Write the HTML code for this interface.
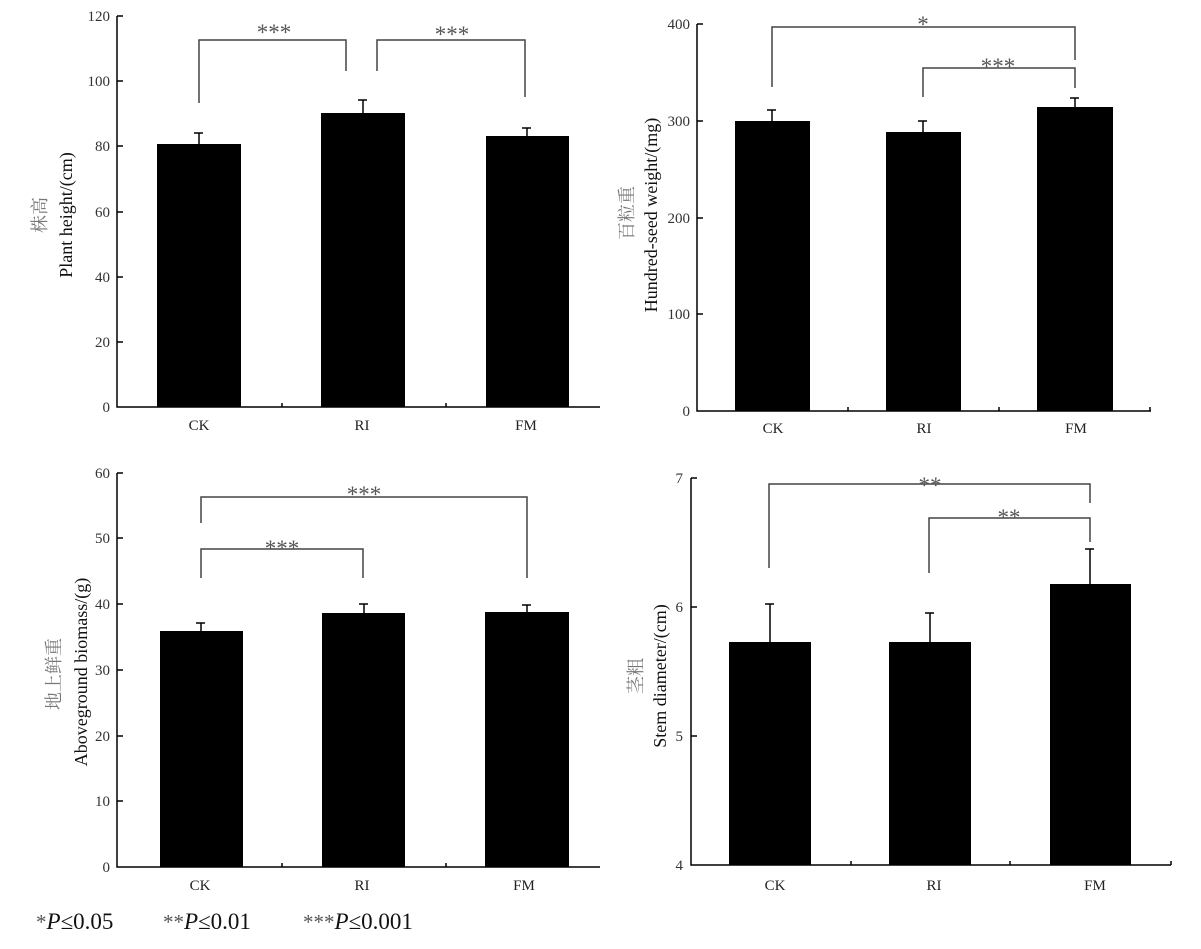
<!DOCTYPE html>
<html><head><meta charset="utf-8"><style>
body{margin:0;background:#fff}
svg{display:block}
text{font-family:"Liberation Serif","Noto Serif CJK SC",serif}
.t{font-size:15px;fill:#333}
.x{font-size:15px;fill:#222;text-anchor:middle}
.s{font-size:23px;fill:#555;text-anchor:middle}
.yl{font-size:18px;fill:#111;text-anchor:middle}
.yc{font-size:18px;fill:#777;text-anchor:middle;font-family:"Noto Serif CJK SC","Noto Sans CJK SC",serif}
</style></head><body>
<svg width="1201" height="949" viewBox="0 0 1201 949">
<g stroke="#000" stroke-width="1.5" fill="none">
<path d="M117,16 V407 H600"/>
<path d="M117,16 h6 M117,81 h6 M117,146 h6 M117,212 h6 M117,277 h6 M117,342 h6 M282,407 v-4 M446,407 v-4"/>
<path d="M199,144 V133 M194,133 h9 M363,113 V100 M358,100 h9 M527,136 V128 M522,128 h9"/>
<path stroke="#444" d="M199,103 V40 H346 V71 M377,71 V40 H525 V97"/>
<path d="M697,24 V411 H1151"/>
<path d="M697,24 h6 M697,121 h6 M697,218 h6 M697,314 h6 M848,411 v-4 M999,411 v-4 M1150,411 v-4"/>
<path d="M772,121 V110 M767,110 h9 M923,132 V121 M918,121 h9 M1075,107 V98 M1070,98 h9"/>
<path stroke="#444" d="M772,87 V27 H1075 V60 M923,97 V68 H1075 V88"/>
<path d="M117,473 V867 H600"/>
<path d="M117,473 h6 M117,538 h6 M117,604 h6 M117,670 h6 M117,736 h6 M117,801 h6 M282,867 v-4 M446,867 v-4"/>
<path d="M201,631 V623 M196,623 h9 M364,613 V604 M359,604 h9 M527,612 V605 M522,605 h9"/>
<path stroke="#444" d="M201,523 V497 H527 V578 M201,578 V549 H363 V578"/>
<path d="M691,478 V865 H1171"/>
<path d="M691,478 h6 M691,607 h6 M691,736 h6 M851,865 v-4 M1010,865 v-4 M1171,865 v-4"/>
<path d="M770,642 V604 M765,604 h9 M930,642 V613 M925,613 h9 M1090,584 V549 M1085,549 h9"/>
<path stroke="#444" d="M769,568 V484 H1090 V503 M929,573 V518 H1090 V542"/>
</g>
<g fill="#000">
<rect x="157" y="144" width="84" height="263"/>
<rect x="321" y="113" width="84" height="294"/>
<rect x="486" y="136" width="83" height="271"/>
<rect x="735" y="121" width="75" height="290"/>
<rect x="886" y="132" width="75" height="279"/>
<rect x="1037" y="107" width="76" height="304"/>
<rect x="160" y="631" width="83" height="236"/>
<rect x="322" y="613" width="83" height="254"/>
<rect x="485" y="612" width="84" height="255"/>
<rect x="729" y="642" width="82" height="223"/>
<rect x="889" y="642" width="82" height="223"/>
<rect x="1050" y="584" width="81" height="281"/>
</g>
<g class="t" text-anchor="end">
<text x="110" y="21">120</text><text x="110" y="86">100</text><text x="110" y="151">80</text><text x="110" y="217">60</text><text x="110" y="282">40</text><text x="110" y="347">20</text><text x="110" y="412">0</text>
<text x="690" y="29">400</text><text x="690" y="126">300</text><text x="690" y="223">200</text><text x="690" y="319">100</text><text x="690" y="416">0</text>
<text x="110" y="478">60</text><text x="110" y="543">50</text><text x="110" y="609">40</text><text x="110" y="675">30</text><text x="110" y="741">20</text><text x="110" y="806">10</text><text x="110" y="872">0</text>
<text x="683" y="483">7</text><text x="683" y="612">6</text><text x="683" y="741">5</text><text x="683" y="870">4</text>
</g>
<g class="x">
<text x="199" y="430">CK</text><text x="362" y="430">RI</text><text x="526" y="430">FM</text>
<text x="773" y="433">CK</text><text x="924" y="433">RI</text><text x="1076" y="433">FM</text>
<text x="200" y="890">CK</text><text x="362" y="890">RI</text><text x="524" y="890">FM</text>
<text x="775" y="890">CK</text><text x="934" y="890">RI</text><text x="1095" y="890">FM</text>
</g>
<g class="s">
<text x="274" y="40">***</text><text x="452" y="42">***</text>
<text x="923" y="32">*</text><text x="998" y="74">***</text>
<text x="364" y="502">***</text><text x="282" y="556">***</text>
<text x="930" y="493">**</text><text x="1009" y="525">**</text>
</g>
<text class="yc" transform="translate(46,215) rotate(-90)">株高</text>
<text class="yl" transform="translate(72,215) rotate(-90)">Plant height/(cm)</text>
<text class="yc" transform="translate(633,213) rotate(-90)">百粒重</text>
<text class="yl" transform="translate(657,215) rotate(-90)">Hundred-seed weight/(mg)</text>
<text class="yc" transform="translate(60,674) rotate(-90)">地上鲜重</text>
<text class="yl" transform="translate(87,672) rotate(-90)">Aboveground biomass/(g)</text>
<text class="yc" transform="translate(642,676) rotate(-90)">茎粗</text>
<text class="yl" transform="translate(666,676) rotate(-90)">Stem diameter/(cm)</text>
<g font-size="23" fill="#111">
<text x="36" y="929"><tspan fill="#555" font-size="21">*</tspan><tspan font-style="italic">P</tspan>≤0.05</text>
<text x="163" y="929"><tspan fill="#555" font-size="21">**</tspan><tspan font-style="italic">P</tspan>≤0.01</text>
<text x="303" y="929"><tspan fill="#555" font-size="21">***</tspan><tspan font-style="italic">P</tspan>≤0.001</text>
</g>
</svg>
</body></html>
